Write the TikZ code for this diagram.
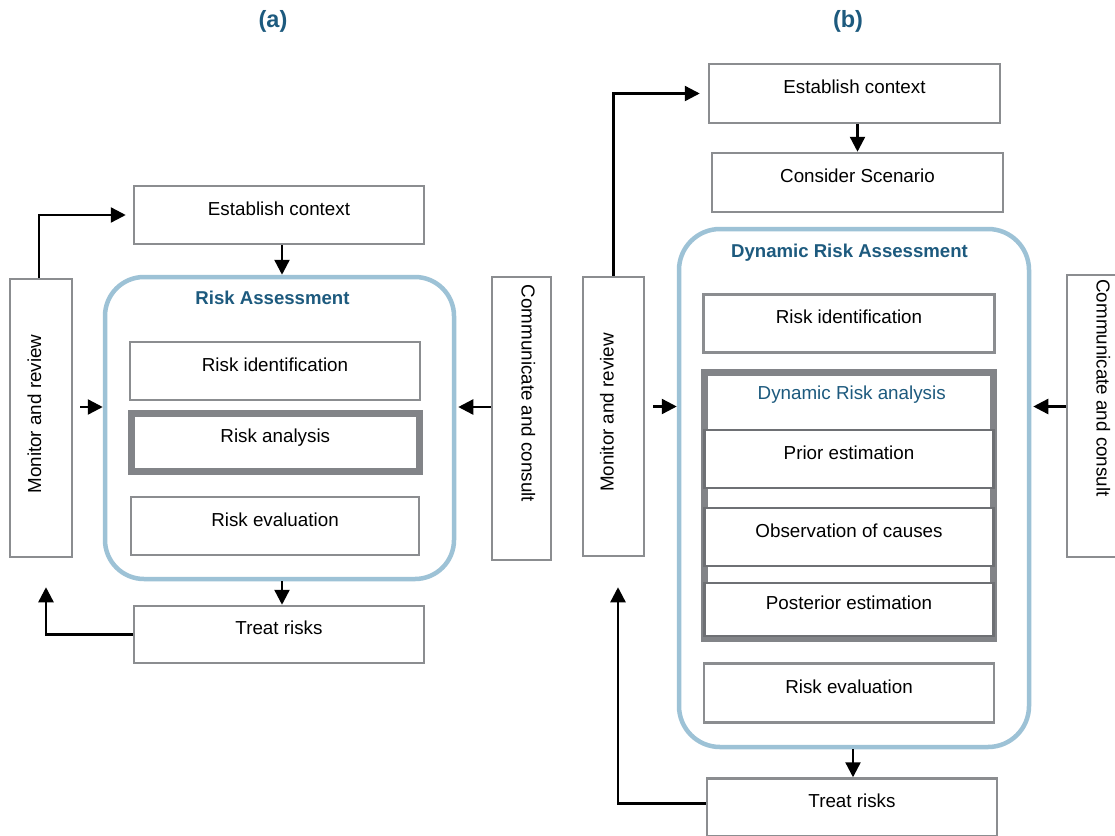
\documentclass[tikz,border=0pt]{standalone}
\usepackage{fontspec}
\setmainfont{Liberation Sans}
\usetikzlibrary{arrows.meta}
\definecolor{boxgray}{HTML}{8B8D90}
\definecolor{thickgray}{HTML}{828488}
\definecolor{innergray}{HTML}{6E7074}
\definecolor{frameblue}{HTML}{9DC2D6}
\definecolor{titleblue}{HTML}{1D5A7E}
% rotated label whose baseline sits in the middle of its box
\newcommand{\sidelabel}[2]{\rotatebox{#1}{\raisebox{0pt}[13.5pt][13.5pt]{#2}}}

\begin{document}
\begin{tikzpicture}[x=1pt,y=-1pt,
  every node/.style={font=\fontsize{18.8}{22}\selectfont, inner sep=0pt},
  stepbox/.style={draw=boxgray, line width=2.5pt, fill=white,
                  text height=13.5pt, text depth=13.5pt},
  innerbox/.style={draw=innergray, line width=2.5pt, fill=white,
                  text height=13.5pt, text depth=13.5pt},
  thickbox/.style={draw=thickgray, line width=7pt, fill=white},
  sidebox/.style={draw=boxgray, line width=2.5pt, fill=white},
  frame/.style={draw=frameblue, line width=4.5pt, rounded corners=39pt, fill=white},
  paneltitle/.style={font=\bfseries\fontsize{23.5}{28}\selectfont, text=titleblue},
  frametitle/.style={font=\bfseries\fontsize{18.6}{22}\selectfont, text=titleblue, anchor=base},
  arr/.style={line width=2.4pt, -{Triangle[length=15pt,width=15pt]}}
]
\clip (0,0) rectangle (1115,835);
\fill[white] (0,0) rectangle (1115,835);

% ---------------- panel (a) ----------------
\node[paneltitle] (tA) at (273,21) {(a)};

\node[stepbox, minimum width=290pt, minimum height=58pt] (ecA) at (279,215) {Establish context};
\node[frame, minimum width=349pt, minimum height=302pt] (RA) at (279.5,428) {};
\node[frametitle] (raTitle) at (272.5,304) {Risk Assessment};
\node[stepbox, minimum width=290pt, minimum height=58pt] (riA) at (275,371) {Risk identification};
\node[thickbox, minimum width=288.5pt, minimum height=58pt,
      text height=13.5pt, text depth=13.5pt] (raA) at (275.3,442.5) {Risk analysis};
\node[stepbox, minimum width=288pt, minimum height=58pt] (reA) at (275,526) {Risk evaluation};
\node[stepbox, minimum width=290pt, minimum height=57pt] (trA) at (279,634.5) {Treat risks};

\node[sidebox, minimum width=62pt, minimum height=278pt] (moA) at (41,418)
  {\sidelabel{90}{\hspace*{8pt}Monitor and review}};
\node[sidebox, minimum width=59pt, minimum height=283pt] (ccA) at (521.5,418.5)
  {\sidelabel{-90}{Communicate and consult\hspace*{50pt}}};

\draw[arr] ([xshift=3pt]ecA.south) -- ([xshift=3pt]ecA.south |- RA.north);
\draw[arr] ([xshift=3pt]trA.north |- RA.south) -- ([xshift=3pt]trA.north);
\draw[arr] ([xshift=-2pt]moA.north) |- ([xshift=-7pt]ecA.west);
\coordinate (hA) at ([xshift=7pt,yshift=11pt]moA.east);
\draw[arr] (hA) -- (hA -| RA.west);
\draw[arr] (ccA.west |- hA) -- ([xshift=2pt]RA.east |- hA);
\draw[arr] (trA.west) -| ([xshift=5pt,yshift=-29pt]moA.south);

% ---------------- panel (b) ----------------
\node[paneltitle] (tB) at (848,21) {(b)};

\node[stepbox, minimum width=291pt, minimum height=59pt] (ecB) at (854.5,93.5) {Establish context};
\node[stepbox, minimum width=291pt, minimum height=59pt] (csB) at (857.5,182.5) {Consider Scenario};
\node[frame, minimum width=350pt, minimum height=518pt, rounded corners=41pt] (DRA) at (854,488) {};
\node[frametitle] (draTitle) at (849.5,257) {Dynamic Risk Assessment};
\node[stepbox, minimum width=291pt, minimum height=58pt] (riB) at (849,323.5) {Risk identification};

\node[thickbox, minimum width=289pt, minimum height=266pt] (draB) at (849,505.5) {};
\node[anchor=base, text=titleblue] (draLabel) at (851.7,399) {Dynamic Risk analysis};
\node[innerbox, minimum width=289pt, minimum height=58pt] (peB) at (849,459) {Prior estimation};
\node[innerbox, minimum width=289pt, minimum height=58pt] (ocB) at (849,537) {Observation of causes};
\node[innerbox, minimum width=289pt, minimum height=53pt] (poB) at (849,609.5) {Posterior estimation};

\node[stepbox, minimum width=290pt, minimum height=59pt] (reB) at (849,693) {Risk evaluation};
\node[stepbox, minimum width=290pt, minimum height=58pt] (trB) at (852,807.5) {Treat risks};

\node[sidebox, minimum width=61pt, minimum height=279pt] (moB) at (613.5,416.5)
  {\sidelabel{90}{\hspace*{8pt}Monitor and review}};
\node[sidebox, minimum width=59pt, minimum height=282pt] (ccB) at (1096.5,416)
  {\sidelabel{-90}{Communicate and consult\hspace*{56pt}}};

\draw[arr] (csB.north |- ecB.south) -- (csB.north);
\draw[arr] (moB.north) |- ([xshift=-8pt]ecB.west);
\coordinate (hB) at ([xshift=8pt,yshift=10pt]moB.east);
\draw[arr] (hB) -- (hB -| DRA.west);
\draw[arr] (ccB.west |- hB) -- ([xshift=2pt]DRA.east |- hB);
\draw[arr] ([xshift=1pt]trB.north |- DRA.south) -- ([xshift=1pt]trB.north);
\draw[arr] ([yshift=4pt]trB.west) -| ([xshift=4.5pt,yshift=-30pt]moB.south);
\end{tikzpicture}
\end{document}
